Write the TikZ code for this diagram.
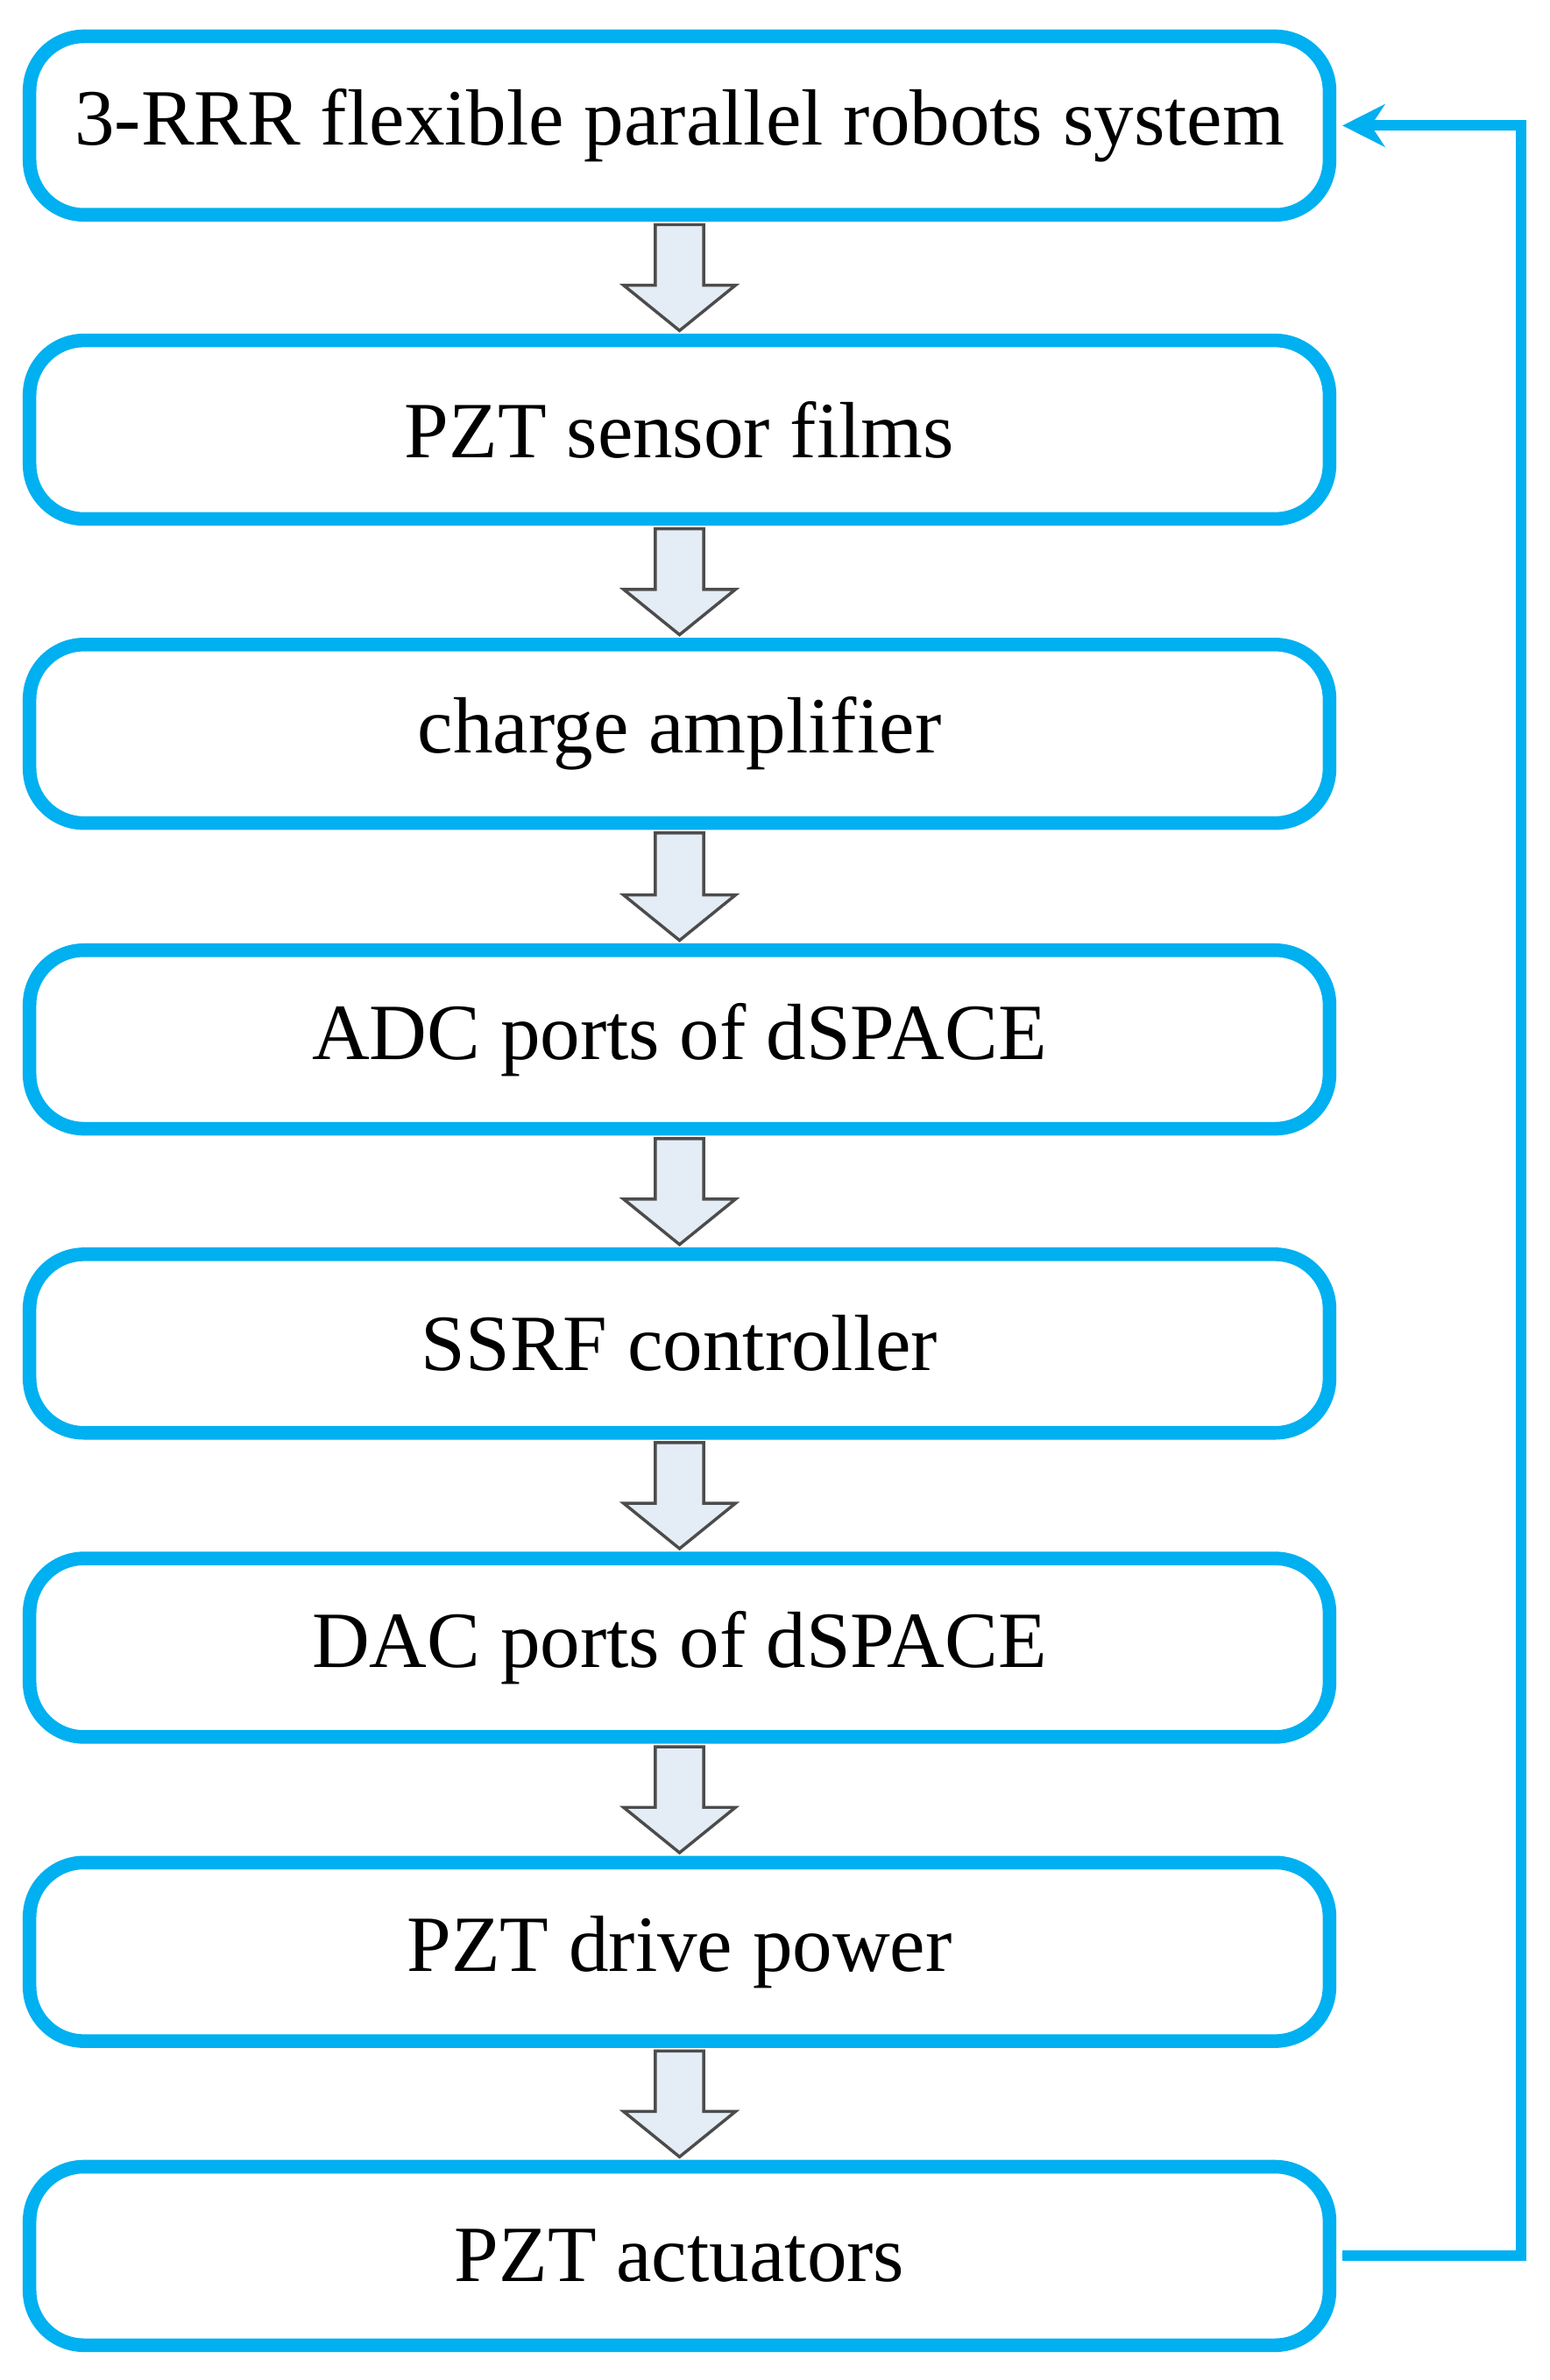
\documentclass[tikz,border=0pt]{standalone}
\usepackage{fontspec}
\setmainfont{Liberation Serif}
\usetikzlibrary{arrows.meta,calc}
\definecolor{cy}{HTML}{00B0F0}
\definecolor{af}{HTML}{E4ECF6}
\begin{document}
\begin{tikzpicture}[x=0.05cm,y=-0.05cm,
  box/.style={draw=cy,line width=0.45cm,rounded corners=1.8cm,minimum width=43.4cm-0.45cm,minimum height=6.35cm-0.45cm,inner sep=0pt,font=\fontsize{75}{84}\selectfont},
  hol/.style={draw=black!70,fill=af,line width=0.1cm}]
\useasboundingbox (0,0) rectangle (1024,1573);
\foreach \n/\y/\t in {1/83/{3-RRR flexible parallel robots system},2/284/{PZT sensor films},3/485/{charge amplifier},4/687/{ADC ports of dSPACE},5/888/{SSRF controller},6/1089/{DAC ports of dSPACE},7/1290/{PZT drive power},8/1491/{PZT actuators}}
  \node[box] (b\n) at (449,\y) {\t};
\foreach \a/\b in {1/2,2/3,3/4,4/5,5/6,6/7,7/8}{
  \draw[hol] ($(b\a.south)+(-16,2)$) -- ($(b\b.north)+(-16,-32)$) -- ($(b\b.north)+(-37,-32)$) -- ($(b\b.north)+(0,-2)$) -- ($(b\b.north)+(37,-32)$) -- ($(b\b.north)+(16,-32)$) -- ($(b\a.south)+(16,2)$) -- cycle;}
\draw[cy,line width=0.35cm,-{Stealth[length=1.4cm,width=1.4cm]}] ($(b8.east)+(4,0)$) -- ++(118,0) |- ($(b1.east)+(4,0)$);
\end{tikzpicture}
\end{document}
